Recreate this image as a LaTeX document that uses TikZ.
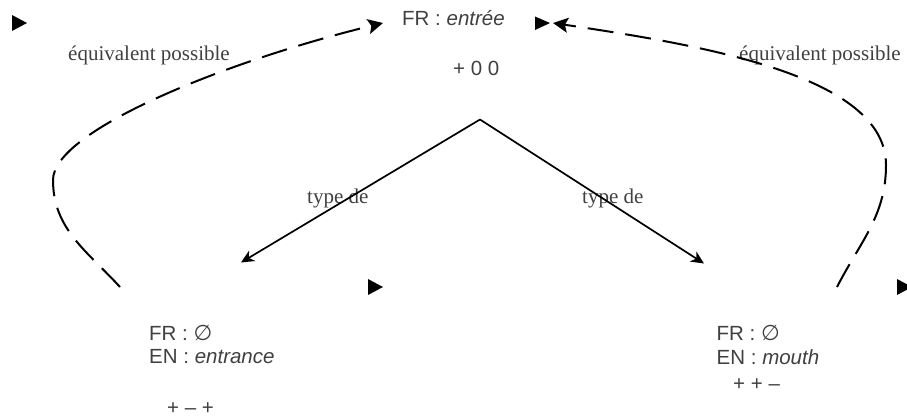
\documentclass[tikz,border=0pt]{standalone}
\usepackage{fontspec}
\setmainfont{Liberation Serif}
\setsansfont{Liberation Sans}
\newfontfamily\symfont{DejaVu Sans}
\usetikzlibrary{arrows.meta}
\definecolor{txt}{RGB}{64,64,64}
\newcommand{\nullset}{{\symfont\fontsize{21.5}{24}\selectfont ∅}}
\tikzset{
  lab/.style={anchor=base west, inner sep=0pt, font=\sffamily\fontsize{20.5}{24}\selectfont, text=txt},
  rel/.style={anchor=base west, inner sep=0pt, font=\rmfamily\fontsize{21}{24}\selectfont, text=txt},
  isa/.style={line width=1.7pt, -{Stealth[length=13pt,width=12pt,inset=4pt]}},
  equiv/.style={line width=2pt, dash pattern=on 26pt off 12pt, -{Stealth[length=15pt,width=15pt,inset=3pt]}},
  marker/.style={fill=black}
}
\begin{document}
\begin{tikzpicture}[x=1pt,y=-1pt]
\useasboundingbox (0,0) rectangle (907,417);

% lexical units
\node[lab] (fr) at (402,26) {FR : \textit{entrée}};
\node[lab] (frval) at (453,76) {+ 0 0};
\node[lab] (lfr) at (149,340) {FR : \nullset};
\node[lab] (len) at (149,363.5) {EN : \textit{entrance}};
\node[lab] (lval) at (167,414) {+ – +};
\node[lab] (rfr) at (716.5,340) {FR : \nullset};
\node[lab] (ren) at (716.5,364.5) {EN : \textit{mouth}};
\node[lab] (rval) at (733,390) {+ + –};

% relation labels
\node[rel] (eqL) at (68,61) {équivalent possible};
\node[rel] (eqR) at (739,61) {équivalent possible};
\node[rel] (typL) at (307,203.5) {type de};
\node[rel] (typR) at (582,203.5) {type de};

% connector end points
\coordinate (apex) at (480,119.5);
\coordinate (ltip) at (241,262.5);
\coordinate (rtip) at (704,263.5);
\coordinate (lfoot) at (120,287);
\coordinate (lbend) at (53,180);
\coordinate (lend) at (383,23);
\coordinate (rfoot) at (837,287);
\coordinate (rbend) at (886,165);
\coordinate (rend) at (553,23);

% "type de" arrows
\draw[isa] (apex) -- (ltip);
\draw[isa] (apex) -- (rtip);

% dashed "équivalent possible" arrows
\draw[equiv] (lfoot) .. controls (87,251) and (53,229) .. (lbend)
  .. controls (53,130) and (230,60) .. (lend);
\draw[equiv] (rfoot) .. controls (860,242) and (886,216) .. (rbend)
  .. controls (886,75) and (700,45) .. (rend);

% loose arrow heads
\fill[marker] (12,15) -- (27,23) -- (12,31) -- cycle;
\fill[marker] (535,16.5) -- (550,23) -- (535,30) -- cycle;
\fill[marker] (368,279) -- (383,287) -- (368,295) -- cycle;
\fill[marker] (897,279) -- (912,287) -- (897,295) -- cycle;
\end{tikzpicture}
\end{document}
